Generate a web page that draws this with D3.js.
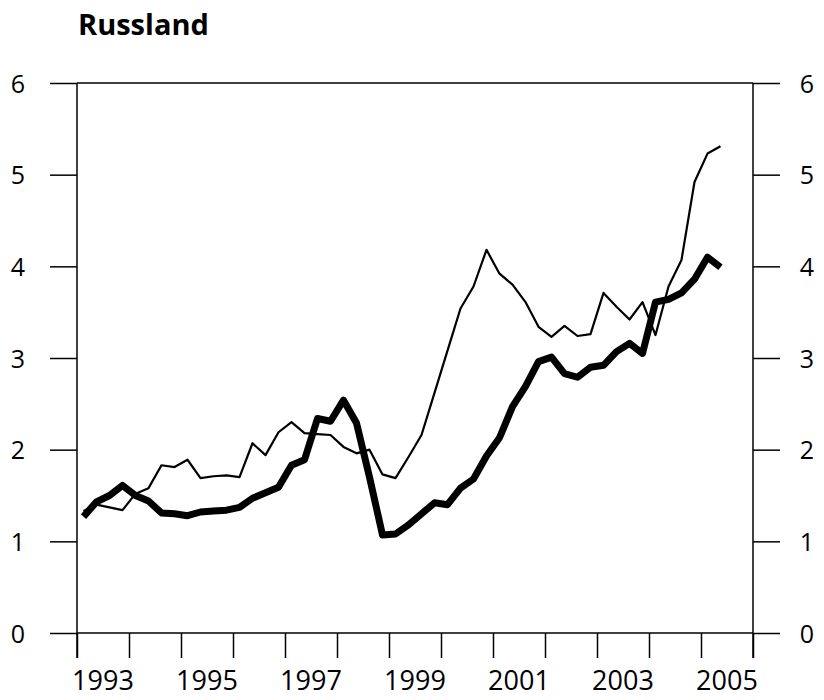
<!DOCTYPE html>
<html>
<head>
<meta charset="utf-8">
<script src="https://cdn.jsdelivr.net/npm/d3@7"></script>
<style>
  body { margin: 0; background: #fff; }
  text { font-family: "Open Sans", sans-serif; fill: #000; }
</style>
</head>
<body>
<div id="chart"></div>
<script>
(function () {

  // quarters 1993Q1 - 2005Q2
  var quarters = [
    "1993Q1","1993Q2","1993Q3","1993Q4","1994Q1","1994Q2","1994Q3","1994Q4",
    "1995Q1","1995Q2","1995Q3","1995Q4","1996Q1","1996Q2","1996Q3","1996Q4",
    "1997Q1","1997Q2","1997Q3","1997Q4","1998Q1","1998Q2","1998Q3","1998Q4",
    "1999Q1","1999Q2","1999Q3","1999Q4","2000Q1","2000Q2","2000Q3","2000Q4",
    "2001Q1","2001Q2","2001Q3","2001Q4","2002Q1","2002Q2","2002Q3","2002Q4",
    "2003Q1","2003Q2","2003Q3","2003Q4","2004Q1","2004Q2","2004Q3","2004Q4",
    "2005Q1","2005Q2"
  ]

  // thick line
  var thickValues = [
    1.27, 1.43, 1.50, 1.61, 1.50, 1.44, 1.31, 1.30, 1.28, 1.32,
    1.33, 1.34, 1.37, 1.47, 1.53, 1.59, 1.83, 1.89, 2.34, 2.31,
    2.54, 2.29, 1.70, 1.07, 1.08, 1.18, 1.30, 1.42, 1.40, 1.58,
    1.68, 1.93, 2.13, 2.47, 2.69, 2.96, 3.01, 2.83, 2.79, 2.90,
    2.92, 3.07, 3.16, 3.05, 3.61, 3.64, 3.71, 3.86, 4.10, 3.99
  ]

  // thin line
  var thinValues = [
    1.33, 1.40, 1.37, 1.34, 1.52, 1.58, 1.83, 1.81, 1.89, 1.69,
    1.71, 1.72, 1.70, 2.07, 1.94, 2.19, 2.30, 2.18, 2.17, 2.16,
    2.03, 1.96, 2.00, 1.73, 1.69, 1.92, 2.16, 2.62, 3.08, 3.54,
    3.78, 4.18, 3.92, 3.80, 3.61, 3.34, 3.23, 3.35, 3.24, 3.26,
    3.71, 3.56, 3.42, 3.61, 3.25, 3.78, 4.07, 4.92, 5.23, 5.31
  ]

  var yTicks = [0, 1, 2, 3, 4, 5, 6]
  var yearTicks = [1993, 1994, 1995, 1996, 1997, 1998, 1999, 2000, 2001, 2002, 2003, 2004, 2005, 2006]
  var yearLabels = [1993, 1995, 1997, 1999, 2001, 2003, 2005]

  var width = 824,
      height = 700

  var svg = d3.select("#chart").append("svg")
      .attr("width", width)
      .attr("height", height)

  var x = d3.scaleLinear()
      .domain([1993, 2006])
      .range([77, 753])

  var y = d3.scaleLinear()
      .domain([0, 6])
      .range([633, 83])

  function qToYear(q) {
    return +q.slice(0, 4) + (+q.slice(5) - 0.5) / 4
  }

  // left axis, ticks reach out to x=50
  var left = svg.append("g")
      .attr("transform", "translate(" + x(1993) + ",0)")
      .call(d3.axisLeft(y).tickValues(yTicks).tickFormat(d3.format("d"))
        .tickSize(27).tickSizeOuter(0).tickPadding(0))
  left.select(".domain").remove()
  left.selectAll("line").attr("stroke", "#000").attr("stroke-width", 1.5)
  left.selectAll("text")
      .attr("x", -59)
      .attr("text-anchor", "middle")
      .attr("dy", "0.36em")
      .style("font-size", "25px")

  var right = svg.append("g")
      .attr("transform", "translate(" + x(2006) + ",0)")
      .call(d3.axisRight(y).tickValues(yTicks).tickFormat(d3.format("d"))
        .tickSize(27).tickSizeOuter(0).tickPadding(0))
  right.select(".domain").remove()
  right.selectAll("line").attr("stroke", "#000").attr("stroke-width", 1.5)
  right.selectAll("text")
      .attr("x", 54)
      .attr("text-anchor", "middle")
      .attr("dy", "0.36em")
      .style("font-size", "25px")

  // top and bottom lines across the plot
  svg.selectAll(".hline")
      .data([0, 6])
      .enter().append("line")
      .attr("x1", x(1993))
      .attr("x2", x(2006))
      .attr("y1", function (d) { return y(d) })
      .attr("y2", function (d) { return y(d) })
      .attr("stroke", "#000")
      .attr("stroke-width", 1.5)

  // bottom year ticks
  var bottom = svg.append("g")
      .attr("transform", "translate(0," + y(0) + ")")
      .call(d3.axisBottom(x).tickValues(yearTicks).tickSize(25).tickSizeOuter(0).tickFormat(""))
  bottom.select(".domain").remove()
  bottom.selectAll("line").attr("stroke", "#000").attr("stroke-width", 1.5)

  // year labels centred in the year
  svg.selectAll(".yearLabel")
      .data(yearLabels)
      .enter().append("text")
      .attr("class", "yearLabel")
      .attr("x", function (d) { return x(d + 0.5) })
      .attr("y", 690)
      .attr("text-anchor", "middle")
      .style("font-size", "27px")
      .text(function (d) { return d })

  // vertical frame lines
  svg.selectAll(".vline")
      .data([1993, 2006])
      .enter().append("line")
      .attr("x1", function (d) { return x(d) })
      .attr("x2", function (d) { return x(d) })
      .attr("y1", y(6))
      .attr("y2", y(0) + 25)
      .attr("stroke", "#000")
      .attr("stroke-width", 1.5)

  var line = d3.line()
      .x(function (d) { return x(qToYear(d.q)) })
      .y(function (d) { return y(d.v) })

  var thin = quarters.map(function (q, i) { return { q: q, v: thinValues[i] } })
  var thick = quarters.map(function (q, i) { return { q: q, v: thickValues[i] } })

  svg.append("path")
      .datum(thin)
      .attr("d", line)
      .attr("fill", "none")
      .attr("stroke", "#000")
      .attr("stroke-width", 2.2)
      .attr("stroke-linejoin", "round")

  svg.append("path")
      .datum(thick)
      .attr("d", line)
      .attr("fill", "none")
      .attr("stroke", "#000")
      .attr("stroke-width", 7)
      .attr("stroke-linejoin", "round")

  svg.append("text")
      .attr("x", 78)
      .attr("y", 35)
      .style("font-size", "29px")
      .style("font-weight", "bold")
      .text("Russland")

})()
</script>
</body>
</html>
